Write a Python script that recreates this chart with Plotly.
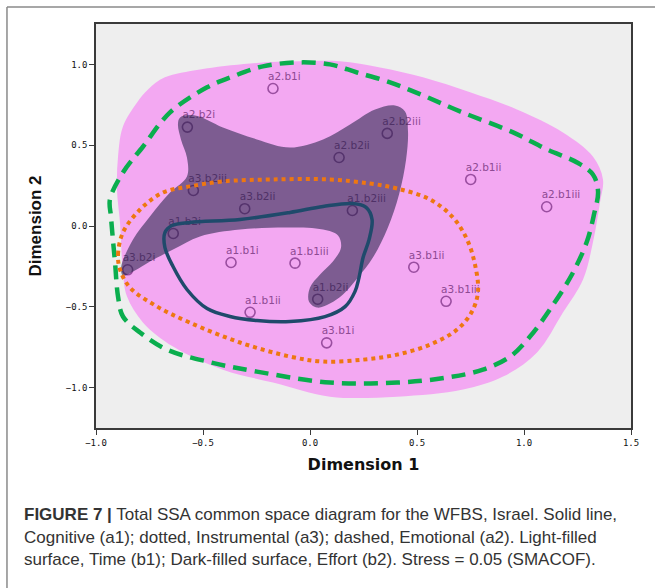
import plotly.graph_objects as go

# ---- item points (Dimension 1, Dimension 2) ----
labels = ["a2.b1i", "a2.b2i", "a2.b2iii", "a2.b2ii", "a2.b1ii", "a2.b1iii",
          "a3.b2iii", "a3.b2ii", "a1.b2iii", "a1.b2i", "a3.b2i", "a1.b1i",
          "a1.b1iii", "a1.b2ii", "a1.b1ii", "a3.b1i", "a3.b1ii", "a3.b1iii"]
dim1 = [-0.173, -0.573, 0.361, 0.136, 0.751, 1.106,
        -0.545, -0.305, 0.198, -0.639, -0.852, -0.369,
        -0.070, 0.036, -0.280, 0.078, 0.485, 0.636]
dim2 = [0.851, 0.612, 0.573, 0.424, 0.288, 0.119,
        0.220, 0.107, 0.096, -0.046, -0.271, -0.226,
        -0.230, -0.453, -0.534, -0.723, -0.255, -0.466]

# ---- regions / partition contours (data units) ----
time_b1_x = [-0.757, -0.678, -0.514, -0.280, -0.047, 0.140, 0.327, 0.528, 0.748, 0.967,
             1.182, 1.322, 1.369, 1.355, 1.322, 1.276, 1.182, 1.061, 0.902, 0.715,
             0.407, 0.093, -0.173, -0.407, -0.640, -0.780, -0.855, -0.874, -0.888,
             -0.902, -0.897, -0.874, -0.808]
time_b1_y = [0.845, 0.920, 0.969, 1.006, 1.019, 1.019, 0.981, 0.920, 0.827, 0.721,
             0.579, 0.430, 0.288, 0.146, -0.102, -0.331, -0.536, -0.783, -0.932, -1.012,
             -1.056, -1.056, -0.969, -0.889, -0.746, -0.598, -0.437, -0.288, 0.022,
             0.226, 0.430, 0.616, 0.765]

effort_b2_x = [-0.607, -0.537, -0.407, -0.248, -0.093, 0.061, 0.187, 0.304, 0.397, 0.444,
               0.458, 0.449, 0.416, 0.364, 0.294, 0.224, 0.154, 0.093, 0.033, -0.005,
               0.000, 0.047, 0.107, 0.145, 0.131, 0.061, -0.093, -0.327, -0.514, -0.640,
               -0.748, -0.818, -0.874, -0.883, -0.827, -0.748, -0.654, -0.575, -0.575,
               -0.603, -0.617]
effort_b2_y = [0.672, 0.684, 0.610, 0.536, 0.486, 0.536, 0.628, 0.721, 0.746, 0.709,
               0.585, 0.412, 0.195, -0.009, -0.195, -0.319, -0.424, -0.480, -0.505, -0.467,
               -0.381, -0.300, -0.220, -0.133, -0.059, -0.022, -0.009, -0.022, -0.065, -0.146,
               -0.220, -0.276, -0.307, -0.257, -0.084, 0.059, 0.207, 0.307, 0.424,
               0.536, 0.628]

cognitive_a1_x = [-0.678, -0.645, -0.561, -0.327, -0.093, 0.061, 0.201, 0.262, 0.290, 0.276,
                  0.248, 0.229, 0.210, 0.164, 0.070, -0.093, -0.248, -0.374, -0.481, -0.575,
                  -0.640, -0.678]
cognitive_a1_y = [-0.041, 0.003, 0.022, 0.040, 0.084, 0.121, 0.139, 0.115, 0.040, -0.084,
                  -0.195, -0.319, -0.406, -0.499, -0.561, -0.591, -0.585, -0.560, -0.511, -0.393,
                  -0.251, -0.133]

instrumental_a3_x = [-0.888, -0.897, -0.874, -0.794, -0.687, -0.561, -0.407, -0.173, 0.093, 0.280,
                     0.407, 0.561, 0.668, 0.734, 0.771, 0.785, 0.757, 0.687, 0.561, 0.407,
                     0.248, 0.061, -0.093, -0.327, -0.561, -0.715, -0.841]
instrumental_a3_y = [-0.269, -0.176, -0.040, 0.102, 0.207, 0.245, 0.276, 0.288, 0.288, 0.263,
                     0.232, 0.164, 0.053, -0.084, -0.238, -0.406, -0.529, -0.641, -0.734, -0.796,
                     -0.827, -0.839, -0.808, -0.721, -0.598, -0.498, -0.381]

emotional_a2_x = [-0.935, -0.874, -0.780, -0.654, -0.481, -0.360, -0.220, -0.061, 0.093, 0.220,
                  0.374, 0.528, 0.701, 0.949, 1.107, 1.248, 1.322, 1.346, 1.327, 1.294,
                  1.224, 1.121, 1.028, 0.935, 0.808, 0.640, 0.407, 0.093, -0.248, -0.481,
                  -0.668, -0.794, -0.874, -0.897, -0.911, -0.921, -0.930]
emotional_a2_y = [0.164, 0.331, 0.492, 0.703, 0.858, 0.926, 0.988, 1.012, 1.000, 0.950,
                  0.889, 0.808, 0.709, 0.579, 0.474, 0.393, 0.319, 0.214, 0.071, -0.096,
                  -0.300, -0.517, -0.684, -0.808, -0.889, -0.938, -0.969, -0.969, -0.901, -0.839,
                  -0.765, -0.659, -0.560, -0.437, -0.226, -0.084, 0.059]

x_ticks = [-1.0, -0.5, 0.0, 0.5, 1.0, 1.5]
y_ticks = [-1.0, -0.5, 0.0, 0.5, 1.0]

caption_lines = [
    "<b>FIGURE 7 |</b> Total SSA common space diagram for the WFBS, Israel. Solid line,",
    "Cognitive (a1); dotted, Instrumental (a3); dashed, Emotional (a2). Light-filled",
    "surface, Time (b1); Dark-filled surface, Effort (b2). Stress = 0.05 (SMACOF).",
]

# layout geometry (pixels) used to place point labels with a small pixel offset
W, H = 655, 588
ML, MR, MT, MB = 96, 24, 24, 160
X_RANGE = [-1.0, 1.5]
Y_RANGE = [-1.25, 1.25]
px_x = (X_RANGE[1] - X_RANGE[0]) / (W - ML - MR)
px_y = (Y_RANGE[1] - Y_RANGE[0]) / (H - MT - MB)
LABEL_DX, LABEL_DY = -5, 6   # pixel offset of label anchor from its point


def closed(v):
    return list(v) + [v[0]]


fig = go.Figure()

# light-filled surface (Time, b1)
fig.add_trace(go.Scatter(x=closed(time_b1_x), y=closed(time_b1_y), mode="lines",
                         line=dict(shape="spline", smoothing=1.0, width=0, color="#F3A8F2"),
                         fill="toself", fillcolor="#F3A8F2", hoverinfo="skip", showlegend=False))

# points and their labels (drawn under the translucent dark surface)
fig.add_trace(go.Scatter(x=dim1, y=dim2, mode="markers",
                         marker=dict(symbol="circle-open", size=10, color="#9A4EA0",
                                     line=dict(width=1.6, color="#9A4EA0")),
                         text=labels, hoverinfo="text", showlegend=False))
fig.add_trace(go.Scatter(x=[v + LABEL_DX * px_x for v in dim1],
                         y=[v + LABEL_DY * px_y for v in dim2],
                         mode="text", text=labels, textposition="top right",
                         textfont=dict(family="DejaVu Sans", size=10.5, color="#8E4A93"),
                         hoverinfo="skip", showlegend=False))

# dark-filled surface (Effort, b2)
fig.add_trace(go.Scatter(x=closed(effort_b2_x), y=closed(effort_b2_y), mode="lines",
                         line=dict(shape="spline", smoothing=1.0, width=0, color="rgba(28,30,66,0.55)"),
                         fill="toself", fillcolor="rgba(28,30,66,0.55)", hoverinfo="skip",
                         showlegend=False))

# facet contours
fig.add_trace(go.Scatter(x=closed(emotional_a2_x), y=closed(emotional_a2_y), mode="lines",
                         line=dict(shape="spline", smoothing=1.0, width=4.5, color="#0AAE4E",
                                   dash="14px,8px"),
                         hoverinfo="skip", showlegend=False))
fig.add_trace(go.Scatter(x=closed(instrumental_a3_x), y=closed(instrumental_a3_y), mode="lines",
                         line=dict(shape="spline", smoothing=1.0, width=4, color="#EE7711",
                                   dash="4px,4px"),
                         hoverinfo="skip", showlegend=False))
fig.add_trace(go.Scatter(x=closed(cognitive_a1_x), y=closed(cognitive_a1_y), mode="lines",
                         line=dict(shape="spline", smoothing=1.0, width=3.5, color="#1F4A6B"),
                         hoverinfo="skip", showlegend=False))

for i, line in enumerate(caption_lines):
    fig.add_annotation(xref="paper", yref="paper", x=-0.1383, y=-0.2153 - i * 0.0557,
                       text=line, showarrow=False, xanchor="left", yanchor="middle",
                       font=dict(family="Liberation Sans", size=17, color="#333333"))

# outer figure frame (top and left rules)
fig.add_shape(type="line", xref="paper", yref="paper", x0=-0.1664, x1=1.06, y0=1.042, y1=1.042,
              line=dict(color="#8A8A8A", width=1.5))
fig.add_shape(type="line", xref="paper", yref="paper", x0=-0.1664, x1=-0.1664, y0=1.042, y1=-0.42,
              line=dict(color="#8A8A8A", width=1.5))

axis_common = dict(showline=True, mirror=True, linecolor="#3A3A3A", linewidth=1.5,
                   ticks="outside", ticklen=5, tickwidth=1.2, tickcolor="#3A3A3A",
                   showgrid=False, zeroline=False,
                   tickfont=dict(family="DejaVu Sans Mono", size=9, color="#111111"),
                   tickformat=".1f")

fig.update_layout(
    width=W, height=H,
    margin=dict(l=ML, r=MR, t=MT, b=MB),
    paper_bgcolor="white", plot_bgcolor="#EEEEEE",
    xaxis=dict(range=X_RANGE, tickvals=x_ticks,
               title=dict(text="<b>Dimension 1</b>", standoff=12,
                          font=dict(family="DejaVu Sans", size=16, color="#111111")),
               **axis_common),
    yaxis=dict(range=Y_RANGE, tickvals=y_ticks,
               title=dict(text="<b>Dimension 2</b>", standoff=20,
                          font=dict(family="Liberation Sans Narrow, Liberation Sans", size=17,
                                    color="#111111")),
               **axis_common),
)

fig.write_html("out.html")
